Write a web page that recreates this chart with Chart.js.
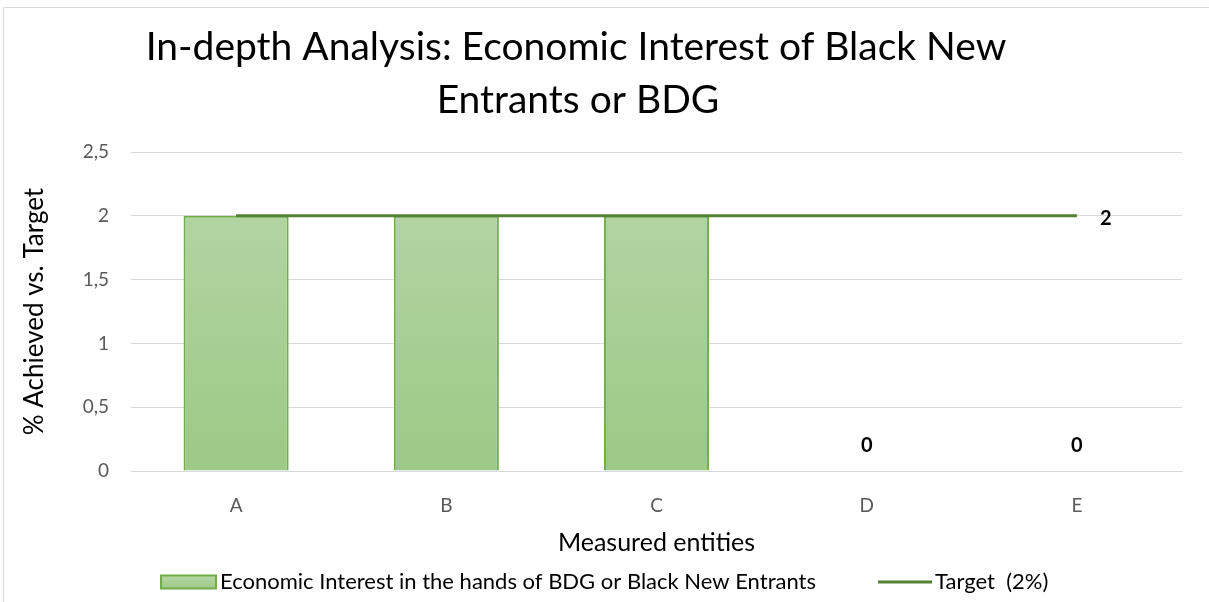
<!DOCTYPE html>
<html>
<head>
<meta charset="utf-8">
<title>In-depth Analysis</title>
<script src="https://cdn.jsdelivr.net/npm/chart.js@4/dist/chart.umd.min.js"></script>
<style>
  html, body { margin: 0; padding: 0; background: #fff; }
  #wrap { position: relative; width: 1209px; height: 602px; }
</style>
</head>
<body>
<div id="wrap"><canvas id="myChart" width="1209" height="602"></canvas></div>
<script>
// data
const entities = ["A", "B", "C", "D", "E"];
const achieved = [2, 2, 2, 0, 0];
const target = [2, 2, 2, 2, 2];
const barLabelIdx = [3, 4];
const lineLabelIdx = [4];
const titleLines = ["In-depth Analysis: Economic Interest of Black New", "Entrants or BDG"];
const achievedName = "Economic Interest in the hands of BDG or Black New Entrants";
const targetName = "Target  (2%)";

const FONT = "Lato, 'Open Sans', sans-serif";
const barTop = "#b7d6a8";
const barBottom = "#9cc986";
const barEdge = "#70ad47";
const lineColor = "#548235";

function barFill(context) {
  const area = context.chart.chartArea;
  if (!area) return barBottom;
  const g = context.chart.ctx.createLinearGradient(0, area.top, 0, area.bottom);
  g.addColorStop(0, barTop);
  g.addColorStop(1, barBottom);
  return g;
}

// title, frame, labels and legend drawn on the canvas
const extras = {
  id: "extras",
  afterDraw(chart) {
    const ctx = chart.ctx;
    ctx.save();
    // outer frame (top + left edge)
    ctx.strokeStyle = "#d9d9d9";
    ctx.lineWidth = 1;
    ctx.beginPath();
    ctx.moveTo(3.5, 602);
    ctx.lineTo(3.5, 7.5);
    ctx.lineTo(1209, 7.5);
    ctx.stroke();

    // title
    ctx.fillStyle = "#000";
    ctx.font = "39px " + FONT;
    ctx.textAlign = "center";
    ctx.textBaseline = "alphabetic";
    ctx.fillText(titleLines[0], 576, 60);
    ctx.fillText(titleLines[1], 578, 113);

    // legend
    const ly = 582;
    ctx.font = "22px " + FONT;
    ctx.textAlign = "left";
    ctx.textBaseline = "middle";
    const g = ctx.createLinearGradient(0, ly - 7, 0, ly + 7);
    g.addColorStop(0, barTop);
    g.addColorStop(1, barBottom);
    ctx.fillStyle = g;
    ctx.fillRect(161, ly - 6.5, 55, 13);
    ctx.strokeStyle = barEdge;
    ctx.lineWidth = 2;
    ctx.strokeRect(161, ly - 6.5, 55, 13);
    ctx.fillStyle = "#000";
    ctx.fillText(achievedName, 220, ly);

    ctx.strokeStyle = lineColor;
    ctx.lineWidth = 3;
    ctx.beginPath();
    ctx.moveTo(878, ly);
    ctx.lineTo(932, ly);
    ctx.stroke();
    ctx.fillText(targetName, 935, ly);
    ctx.restore();
  },
  afterDatasetsDraw(chart) {
    const ctx = chart.ctx;
    ctx.save();
    ctx.fillStyle = "#000";
    ctx.font = "bold 20px " + FONT;
    ctx.textAlign = "center";
    ctx.textBaseline = "middle";
    const bars = chart.getDatasetMeta(0).data;
    barLabelIdx.forEach(i => {
      ctx.fillText(String(achieved[i]), bars[i].x, bars[i].y - 25);
    });
    const pts = chart.getDatasetMeta(1).data;
    lineLabelIdx.forEach(i => {
      ctx.fillText(String(target[i]), pts[i].x + 29, pts[i].y + 3);
    });
    ctx.restore();
  }
};

const ctx = document.getElementById("myChart");
const myChart = new Chart(ctx, {
  type: "bar",
  data: {
    labels: entities,
    datasets: [
      {
        label: achievedName,
        data: achieved,
        backgroundColor: barFill,
        borderColor: barEdge,
        borderWidth: 2,
        categoryPercentage: 0.5,
        barPercentage: 1,
        order: 1,
      },
      {
        type: "line",
        label: targetName,
        data: target,
        borderColor: lineColor,
        borderWidth: 3,
        pointRadius: 0,
        fill: false,
        order: 0,
      },
    ],
  },
  options: {
    responsive: false,
    animation: false,
    layout: {
      padding: { left: 0, right: 27, top: 152, bottom: 44 },
    },
    plugins: {
      legend: { display: false },
      title: { display: false },
      tooltip: { enabled: false },
    },
    scales: {
      x: {
        afterFit(scale) { scale.height = 87; },
        grid: { display: false, drawTicks: false },
        border: { color: "#d9d9d9", width: 1 },
        ticks: {
          padding: 23,
          color: "#595959",
          font: { size: 19, family: FONT },
        },
        title: {
          display: true,
          text: "Measured entities",
          color: "#000",
          font: { size: 25, family: FONT },
          padding: { top: 0, bottom: 0 },
        },
      },
      y: {
        min: 0,
        max: 2.5,
        afterFit(scale) { scale.width = 131; },
        grid: { color: "#d9d9d9", drawTicks: false },
        border: { display: false },
        ticks: {
          stepSize: 0.5,
          padding: 22,
          color: "#595959",
          font: { size: 19, family: FONT },
          callback: v => String(v).replace(".", ","),
        },
        title: {
          display: true,
          text: "% Achieved vs. Target",
          color: "#000",
          font: { size: 26, family: FONT },
          padding: { top: 19, bottom: 0 },
        },
      },
    },
  },
  plugins: [extras],
});
</script>
</body>
</html>
